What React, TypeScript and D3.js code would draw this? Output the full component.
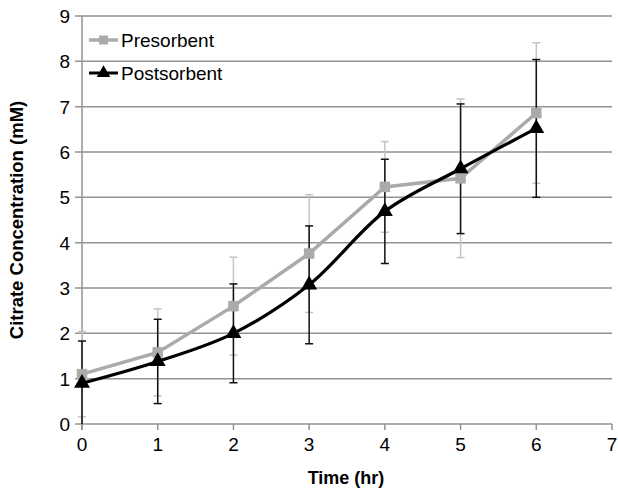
import * as d3 from "d3";
import React, { useEffect, useRef } from "react";

const times = [0, 1, 2, 3, 4, 5, 6];
const presorbent = [1.1, 1.58, 2.6, 3.76, 5.23, 5.42, 6.86];
const presorbentErr = [0.94, 0.96, 1.08, 1.3, 1.0, 1.75, 1.55];
const postsorbent = [0.9, 1.38, 2.0, 3.07, 4.69, 5.63, 6.52];
const postsorbentErr = [0.93, 0.93, 1.09, 1.3, 1.15, 1.43, 1.52];
const xTicks = [0, 1, 2, 3, 4, 5, 6, 7];
const yTicks = [0, 1, 2, 3, 4, 5, 6, 7, 8, 9];

const W = 618;
const H = 494;
const FONT = "'Liberation Sans', Arial, sans-serif";

export default function App() {
  const ref = useRef<SVGSVGElement>(null);

  useEffect(() => {
    const svg = d3.select(ref.current);
    svg.selectAll("*").remove();

    const x = d3.scaleLinear().domain([0, 7]).range([82, 612]);
    const y = d3.scaleLinear().domain([0, 9]).range([424, 16]);

    svg.append("rect").attr("width", W).attr("height", H).attr("fill", "#fff");

    // grid lines
    svg
      .append("g")
      .selectAll("line")
      .data(yTicks)
      .enter()
      .append("line")
      .attr("x1", 75)
      .attr("x2", 612)
      .attr("y1", (d) => y(d))
      .attr("y2", (d) => y(d))
      .attr("stroke", "#939393")
      .attr("stroke-width", 1.5);

    // y axis line
    svg
      .append("line")
      .attr("x1", x(0))
      .attr("x2", x(0))
      .attr("y1", y(9))
      .attr("y2", y(0) + 6)
      .attr("stroke", "#939393")
      .attr("stroke-width", 1.5);

    // x ticks
    svg
      .append("g")
      .selectAll("line")
      .data(xTicks)
      .enter()
      .append("line")
      .attr("x1", (d) => x(d))
      .attr("x2", (d) => x(d))
      .attr("y1", y(0))
      .attr("y2", y(0) + 6)
      .attr("stroke", "#939393")
      .attr("stroke-width", 1.5);

    svg
      .append("g")
      .selectAll("text")
      .data(yTicks)
      .enter()
      .append("text")
      .attr("x", 70)
      .attr("y", (d) => y(d) + 7)
      .attr("text-anchor", "end")
      .style("font-family", FONT)
      .style("font-size", "19px")
      .text((d) => d);

    svg
      .append("g")
      .selectAll("text")
      .data(xTicks)
      .enter()
      .append("text")
      .attr("x", (d) => x(d))
      .attr("y", 451)
      .attr("text-anchor", "middle")
      .style("font-family", FONT)
      .style("font-size", "19px")
      .text((d) => d);

    svg
      .append("text")
      .attr("x", 346)
      .attr("y", 484)
      .attr("text-anchor", "middle")
      .style("font-family", FONT)
      .style("font-size", "18px")
      .style("font-weight", "bold")
      .text("Time (hr)");

    svg
      .append("text")
      .attr("transform", `translate(23,220) rotate(-90)`)
      .attr("text-anchor", "middle")
      .style("font-family", FONT)
      .style("font-size", "18.5px")
      .style("font-weight", "bold")
      .text("Citrate Concentration (mM)");

    const series = [
      { vals: presorbent, err: presorbentErr, color: "#aaaaaa", errColor: "#c4c4c4", lw: 3.5, curve: d3.curveLinear, shape: d3.symbolSquare, size: 110 },
      { vals: postsorbent, err: postsorbentErr, color: "#000000", errColor: "#111111", lw: 3.2, curve: d3.curveCatmullRom, shape: d3.symbolTriangle, size: 110 },
    ];
    const idx = times.map((t, i) => i);

    series.forEach((s) => {
      const g = svg.append("g");
      const hi = (i: number) => y(s.vals[i] + s.err[i]);
      const lo = (i: number) => y(Math.max(0, s.vals[i] - s.err[i]));
      // error bars
      const eb = g
        .selectAll("g.eb")
        .data(idx)
        .enter()
        .append("g")
        .attr("stroke", s.errColor)
        .attr("stroke-width", 1.5);
      eb.append("line")
        .attr("x1", (i) => x(times[i]))
        .attr("x2", (i) => x(times[i]))
        .attr("y1", (i) => lo(i))
        .attr("y2", (i) => hi(i));
      eb.append("line")
        .attr("x1", (i) => x(times[i]) - 4)
        .attr("x2", (i) => x(times[i]) + 4)
        .attr("y1", (i) => hi(i))
        .attr("y2", (i) => hi(i));
      eb.filter((i) => s.vals[i] - s.err[i] > 0)
        .append("line")
        .attr("x1", (i) => x(times[i]) - 4)
        .attr("x2", (i) => x(times[i]) + 4)
        .attr("y1", (i) => lo(i))
        .attr("y2", (i) => lo(i));
    });

    series.forEach((s) => {
      const g = svg.append("g");
      const line = d3
        .line<number>()
        .x((i) => x(times[i]))
        .y((i) => y(s.vals[i]))
        .curve(s.curve);
      g.append("path")
        .attr("d", line(idx))
        .attr("fill", "none")
        .attr("stroke", s.color)
        .attr("stroke-width", s.lw);
      g.selectAll("path.m")
        .data(idx)
        .enter()
        .append("path")
        .attr("d", d3.symbol().type(s.shape).size(s.size)())
        .attr("transform", (i) => `translate(${x(times[i])},${y(s.vals[i])})`)
        .attr("fill", s.color);
    });

    // legend
    const legend = [
      { label: "Presorbent", color: "#aaaaaa", shape: d3.symbolSquare, lw: 3.5, yy: 40 },
      { label: "Postsorbent", color: "#000000", shape: d3.symbolTriangle, lw: 3, yy: 73 },
    ];
    legend.forEach((l) => {
      const g = svg.append("g");
      g.append("line")
        .attr("x1", 89)
        .attr("x2", 118)
        .attr("y1", l.yy)
        .attr("y2", l.yy)
        .attr("stroke", l.color)
        .attr("stroke-width", l.lw);
      g.append("path")
        .attr("d", d3.symbol().type(l.shape).size(80)())
        .attr("transform", `translate(103.5,${l.yy})`)
        .attr("fill", l.color);
      g.append("text")
        .attr("x", 121)
        .attr("y", l.yy + 7)
        .style("font-family", FONT)
        .style("font-size", "19px")
        .text(l.label);
    });
  }, []);

  return (
    <div style={{ position: "absolute", left: 0, top: 0 }}>
      <svg ref={ref} width={W} height={H} style={{ display: "block" }} />
    </div>
  );
}
